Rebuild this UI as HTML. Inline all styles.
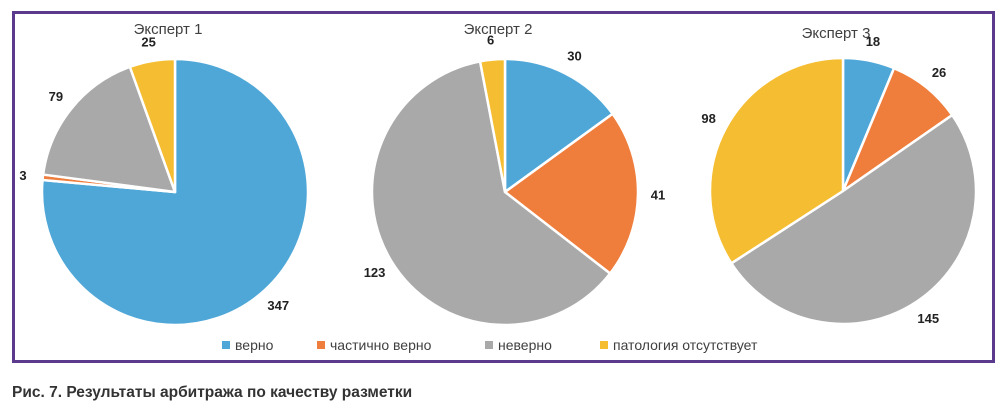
<!DOCTYPE html>
<html><head><meta charset="utf-8"><style>
body{margin:0;background:#fff;width:1006px;height:411px;overflow:hidden;font-family:"Liberation Sans",Arial,sans-serif}
</style></head><body>
<svg id="c" width="1006" height="411" xmlns="http://www.w3.org/2000/svg">
<rect x="13.5" y="12.5" width="980" height="349" fill="#fff" stroke="#5b3a8e" stroke-width="3"/>
<text x="12" y="397" font-size="15.5" font-weight="bold" fill="#333">Рис. 7. Результаты арбитража по качеству разметки</text>
</svg>
<script>
const experts=["Эксперт 1","Эксперт 2","Эксперт 3"];
const categories=["верно","частично верно","неверно","патология отсутствует"];
const expert1=[347,3,79,25];
const expert2=[30,41,123,6];
const expert3=[18,26,145,98];
const series=[expert1,expert2,expert3];
const colors=["#4fa7d8","#ef7d3c","#a9a9a9","#f5bd31"];
const centers=[[175,192],[505,192],[843,191]];
const titleY=[34,34,38];
const R=133;
const NS="http://www.w3.org/2000/svg";
const svg=document.getElementById('c');
function mk(t,a){const e=document.createElementNS(NS,t);for(const k in a)e.setAttribute(k,a[k]);return e;}
function pt(cx,cy,r,ang){return [cx+r*Math.sin(ang),cy-r*Math.cos(ang)];}
series.forEach((vals,i)=>{
  const [cx,cy]=centers[i];
  const g=mk('g',{});
  
  
  svg.appendChild(g);
  const t=mk('text',{x:cx-7,y:titleY[i],'font-size':15,fill:'#404040','text-anchor':'middle'});
  
  
  t.textContent=experts[i];g.appendChild(t);
  const total=vals.reduce((a,b)=>a+b,0);
  let a0=0;
  vals.forEach((v,j)=>{
    const a1=a0+v/total*2*Math.PI;
    const p0=pt(cx,cy,R,a0),p1=pt(cx,cy,R,a1);
    const large=(a1-a0)>Math.PI?1:0;
    const p=mk('path',{d:`M${cx},${cy}L${p0[0]},${p0[1]}A${R},${R} 0 ${large} 1 ${p1[0]},${p1[1]}Z`,fill:colors[j],stroke:'#fff','stroke-width':2.5,'stroke-linejoin':'round'});
    
    
    g.appendChild(p);
    const mid=(a0+a1)/2;
    const lp=pt(cx,cy,R+20,mid);
    const l=mk('text',{x:lp[0],y:lp[1]+5,'font-size':13,'font-weight':'bold',fill:'#222','text-anchor':'middle'});
    
    
    l.textContent=v;g.appendChild(l);
    a0=a1;
  });
});
const legX=[222,317,485,600];
categories.forEach((c,j)=>{
  const g=mk('g',{});
  
  
  svg.appendChild(g);
  const r=mk('rect',{x:legX[j],y:341,width:8,height:8,fill:colors[j]});
  
  
  g.appendChild(r);
  const t=mk('text',{x:legX[j]+13,y:350,'font-size':14,fill:'#404040'});
  
  
  t.textContent=c;g.appendChild(t);
});
</script>
</body></html>
